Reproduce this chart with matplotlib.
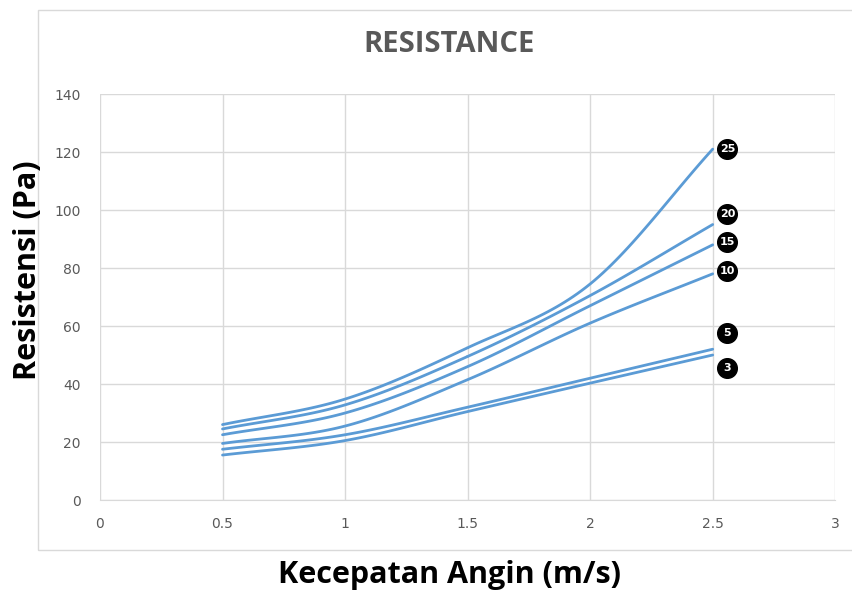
import numpy as np
import matplotlib.pyplot as plt
from matplotlib.patches import Rectangle

# wind speed (m/s)
speeds = [0.5, 1.0, 1.5, 2.0, 2.5]

# resistance (Pa) per series, labelled by the number in the black badge
series_names = ["25", "20", "15", "10", "5", "3"]
res_25 = [26, 34.8, 52.5, 74.5, 121]
res_20 = [24.5, 32.8, 49.5, 70.5, 95]
res_15 = [22.5, 30, 46, 67, 88]
res_10 = [19.5, 25.5, 41.5, 61, 78]
res_5 = [17.5, 22.5, 32, 42, 52]
res_3 = [15.5, 20.5, 30.5, 40.3, 50]
all_res = [res_25, res_20, res_15, res_10, res_5, res_3]

# where the badges sit
badge_x = 2.56
badge_y = [121, 98.5, 89, 79, 57.5, 45.5]


def smooth(xs, ys, n=30):
    # Catmull-Rom, like Excel's "smoothed line"
    xs = np.asarray(xs, float)
    ys = np.asarray(ys, float)
    px = np.concatenate([[2 * xs[0] - xs[1]], xs, [2 * xs[-1] - xs[-2]]])
    py = np.concatenate([[2 * ys[0] - ys[1]], ys, [2 * ys[-1] - ys[-2]]])
    outx, outy = [], []
    t = np.linspace(0, 1, n)
    for i in range(1, len(px) - 2):
        for p, out in ((px, outx), (py, outy)):
            p0, p1, p2, p3 = p[i - 1], p[i], p[i + 1], p[i + 2]
            out.extend(0.5 * ((2 * p1) + (-p0 + p2) * t
                              + (2 * p0 - 5 * p1 + 4 * p2 - p3) * t ** 2
                              + (-p0 + 3 * p1 - 3 * p2 + p3) * t ** 3))
    return outx, outy


fig = plt.figure(figsize=(8.53, 5.92), dpi=100)
fig.patches.append(Rectangle((0.045, 0.071), 0.96, 0.912, transform=fig.transFigure,
                             facecolor='none', edgecolor='#d9d9d9', lw=1, zorder=-1))

ax = fig.add_axes([0.1172, 0.1554, 0.862, 0.6858])
ax.set_facecolor('none')

for ys in all_res:
    sx, sy = smooth(speeds, ys)
    ax.plot(sx, sy, color='#5b9bd5', lw=2, solid_capstyle='round')

ax.scatter([badge_x] * len(badge_y), badge_y, s=200, color='black', zorder=5,
           clip_on=False)
for name, by in zip(series_names, badge_y):
    ax.text(badge_x, by, name, ha='center', va='center', color='white',
            fontsize=8, fontweight='bold', family='DejaVu Sans', zorder=6)

ax.set_xlim(0, 3)
ax.set_ylim(0, 140)
ax.set_xticks([0, 0.5, 1, 1.5, 2, 2.5, 3])
ax.set_xticklabels(['0', '0.5', '1', '1.5', '2', '2.5', '3'])
ax.set_yticks(range(0, 141, 20))
ax.grid(True, color='#d9d9d9', lw=1)
ax.set_axisbelow(True)
for s in ['top', 'right', 'left']:
    ax.spines[s].set_visible(False)
ax.spines['bottom'].set_color('#d9d9d9')
ax.tick_params(length=0, colors='#595959', labelsize=10)
ax.tick_params(axis='x', pad=12)
ax.tick_params(axis='y', pad=14)

fig.text(0.527, 0.925, 'RESISTANCE', ha='center', va='center', fontsize=21,
         fontweight='bold', color='#595959', family='Open Sans')
fig.text(0.033, 0.543, 'Resistensi (Pa)', ha='center', va='center', rotation=90,
         fontsize=22, fontweight='bold', color='black', family='Open Sans')
fig.text(0.527, 0.028, 'Kecepatan Angin (m/s)', ha='center', va='center',
         fontsize=22, fontweight='bold', color='black', family='Open Sans')

fig.savefig('out.png', dpi=100)
